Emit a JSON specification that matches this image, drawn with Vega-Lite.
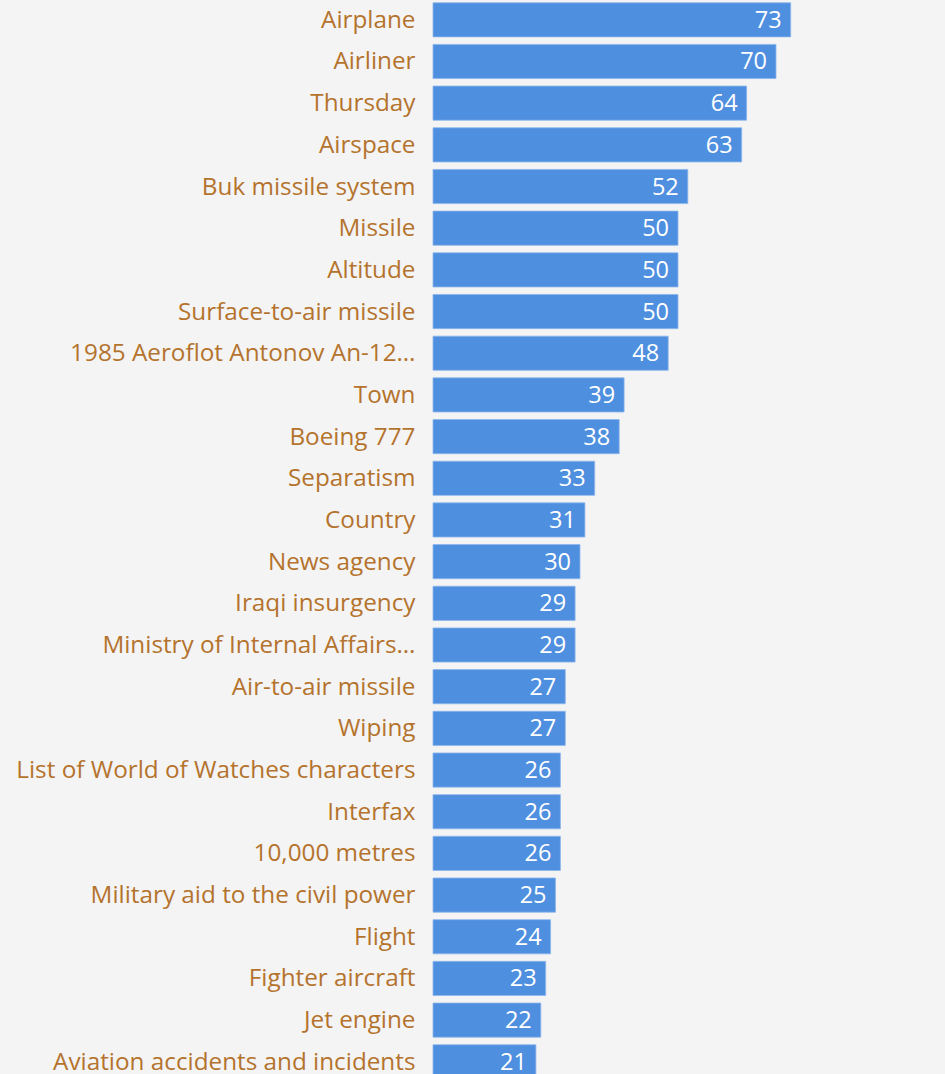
{
  "$schema": "https://vega.github.io/schema/vega-lite/v6.json",
  "width": 490,
  "height": 1081.6,
  "autosize": {"type": "none"},
  "padding": {"left": 433, "top": 0, "right": 22, "bottom": 0},
  "background": "#f4f4f4",
  "config": {
    "view": {"stroke": null},
    "font": "Open Sans"
  },
  "data": {
    "values": [
      {"label": "Airplane", "value": 73},
      {"label": "Airliner", "value": 70},
      {"label": "Thursday", "value": 64},
      {"label": "Airspace", "value": 63},
      {"label": "Buk missile system", "value": 52},
      {"label": "Missile", "value": 50},
      {"label": "Altitude", "value": 50},
      {"label": "Surface-to-air missile", "value": 50},
      {"label": "1985 Aeroflot Antonov An-12…", "value": 48},
      {"label": "Town", "value": 39},
      {"label": "Boeing 777", "value": 38},
      {"label": "Separatism", "value": 33},
      {"label": "Country", "value": 31},
      {"label": "News agency", "value": 30},
      {"label": "Iraqi insurgency", "value": 29},
      {"label": "Ministry of Internal Affairs…", "value": 29},
      {"label": "Air-to-air missile", "value": 27},
      {"label": "Wiping", "value": 27},
      {"label": "List of World of Watches characters", "value": 26},
      {"label": "Interfax", "value": 26},
      {"label": "10,000 metres", "value": 26},
      {"label": "Military aid to the civil power", "value": 25},
      {"label": "Flight", "value": 24},
      {"label": "Fighter aircraft", "value": 23},
      {"label": "Jet engine", "value": 22},
      {"label": "Aviation accidents and incidents", "value": 21}
    ]
  },
  "encoding": {
    "y": {
      "field": "label",
      "type": "nominal",
      "sort": null,
      "scale": {"paddingInner": 0.18, "paddingOuter": 0.065},
      "axis": {
        "title": null,
        "domain": false,
        "ticks": false,
        "labelPadding": 18,
        "labelOffset": 1,
        "labelLimit": 600,
        "labelFont": "Open Sans",
        "labelFontSize": 24.3,
        "labelColor": "#b4732d"
      }
    },
    "x": {
      "field": "value",
      "type": "quantitative",
      "scale": {"domain": [0, 100], "nice": false},
      "axis": null
    }
  },
  "layer": [
    {
      "mark": {"type": "bar", "color": "#4f8fdf", "stroke": "#8db6ec", "strokeWidth": 0.8}
    },
    {
      "mark": {
        "type": "text",
        "align": "right",
        "baseline": "middle",
        "dx": -9,
        "dy": 1,
        "color": "#ffffff",
        "font": "Open Sans",
        "fontSize": 23.5
      },
      "encoding": {"text": {"field": "value", "type": "quantitative"}}
    }
  ]
}
